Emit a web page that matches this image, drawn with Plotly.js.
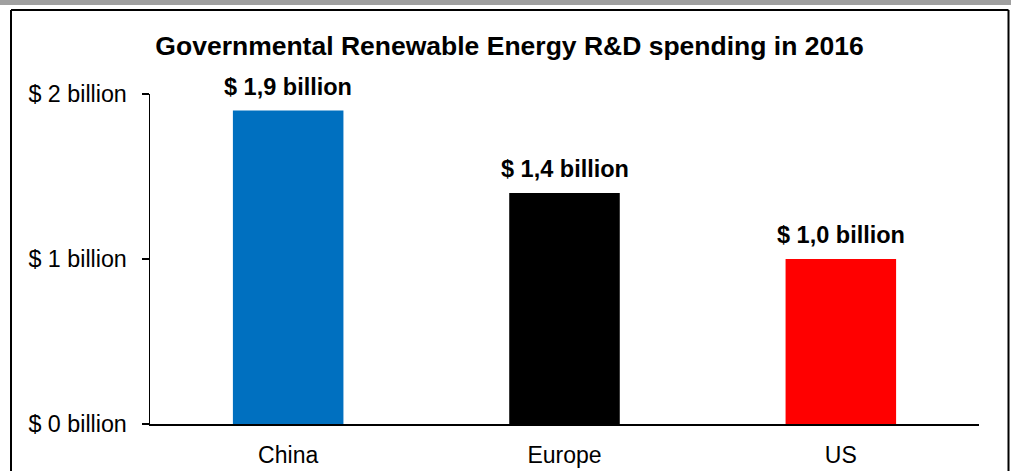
<!DOCTYPE html>
<html>
<head>
<meta charset="utf-8">
<script src="https://cdn.plot.ly/plotly-3.0.1.min.js"></script>
<style>
  html, body { margin: 0; padding: 0; background: #ffffff; }
  #chart { width: 1011px; height: 471px; }
</style>
</head>
<body>
<div id="chart"></div>
<script>
// ---- data ----
const regions = ["China", "Europe", "US"];
const spendingBillion = [1.9, 1.4, 1.0];
const barColors = ["#0070C0", "#000000", "#FF0000"];
const yTickVals = [0, 1, 2];
const yTickText = ["$ 0 billion", "$ 1 billion", "$ 2 billion"];
const chartTitle = "Governmental Renewable Energy R&D spending in 2016";

const FONT = "'Liberation Sans', Arial, sans-serif";

const W = 1011, H = 471;
const M = { l: 150, r: 32, t: 94, b: 47 };
const pw = W - M.l - M.r, ph = H - M.t - M.b;
const px = x => (x - M.l) / pw;      // pixel -> paper x
const py = y => (H - M.b - y) / ph;  // pixel -> paper y

const fmt = v => "$ " + v.toFixed(1).replace(".", ",") + " billion";

const trace = {
  type: "bar",
  x: regions,
  y: spendingBillion,
  marker: { color: barColors, line: { width: 0 } },
  width: 0.4,
  hoverinfo: "skip"
};

const annotations = regions.map((r, i) => ({
  x: r, y: spendingBillion[i], xref: "x", yref: "y",
  text: fmt(spendingBillion[i]),
  showarrow: false, xanchor: "center", yanchor: "bottom", yshift: 9,
  font: { family: FONT, size: 23.5, color: "#000000", weight: "bold" }
}));

const shapes = [
  // grey strip at the very top
  { type: "rect", xref: "paper", yref: "paper", x0: px(0), x1: px(W), y0: py(5), y1: py(-2),
    fillcolor: "#A0A0A0", line: { width: 0 } },
  // black frame
  { type: "line", xref: "paper", yref: "paper", x0: px(11), x1: px(1008.5), y0: py(10), y1: py(10),
    line: { color: "#000000", width: 2 } },
  { type: "line", xref: "paper", yref: "paper", x0: px(11), x1: px(11), y0: py(10), y1: py(H + 5),
    line: { color: "#000000", width: 2 } },
  { type: "line", xref: "paper", yref: "paper", x0: px(1008.5), x1: px(1008.5), y0: py(10), y1: py(H + 5),
    line: { color: "#000000", width: 2 } }
];

const layout = {
  width: W, height: H,
  margin: M,
  paper_bgcolor: "#ffffff",
  plot_bgcolor: "#ffffff",
  showlegend: false,
  title: {
    text: chartTitle,
    x: 0.504, xanchor: "center", xref: "container",
    y: 1 - 46 / H, yanchor: "middle", yref: "container",
    font: { family: FONT, size: 26.5, color: "#000000", weight: "bold" }
  },
  xaxis: {
    type: "category",
    range: [-0.5, 2.5],
    showline: true, linecolor: "#000000", linewidth: 1.5,
    ticks: "", showgrid: false, zeroline: false,
    tickfont: { family: FONT, size: 23, color: "#000000" },
    ticklabelstandoff: 10,
    fixedrange: true
  },
  yaxis: {
    range: [0, 2],
    tickvals: yTickVals, ticktext: yTickText,
    showline: true, linecolor: "#000000", linewidth: 1.5,
    ticks: "outside", ticklen: 7, tickwidth: 1.5, tickcolor: "#000000",
    showgrid: false, zeroline: false,
    tickfont: { family: FONT, size: 23.3, color: "#000000" },
    ticklabelstandoff: 10,
    fixedrange: true
  },
  annotations: annotations,
  shapes: shapes,
  font: { family: FONT, color: "#000000" }
};

Plotly.newPlot("chart", [trace], layout, { displayModeBar: false, staticPlot: true });
</script>
</body>
</html>
